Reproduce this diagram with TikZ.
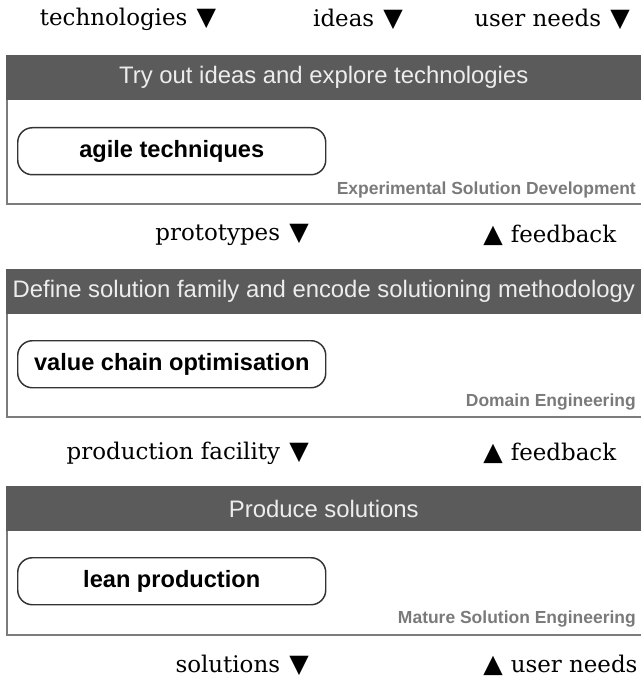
\documentclass[tikz,border=0pt]{standalone}
\usepackage{fontspec}
\setmainfont{DejaVu Serif}
\setsansfont{Liberation Sans}
\newfontfamily\trifont{DejaVu Sans}
\usetikzlibrary{positioning}
\definecolor{hdrGrey}{HTML}{5B5B5B}
\definecolor{rimGrey}{HTML}{7C7C7C}
\definecolor{tagGrey}{HTML}{7A7A7A}
\definecolor{pillRim}{HTML}{333333}
\newcommand{\dnmark}{\hspace{0.4em}{\trifont\fontsize{19}{19}\selectfont ▼}}
\newcommand{\upmark}{{\trifont\fontsize{19}{19}\selectfont ▲}\hspace{0.35em}}

\begin{document}
\begin{tikzpicture}[x=0.75pt,y=-0.75pt,
  flow/.style={font=\fontsize{17.2}{19}\selectfont,inner sep=0pt},
  stage/.style={draw=rimGrey,line width=1.2pt,anchor=north west,inner sep=0pt,
    minimum width=476.25pt},
  hdr/.style={fill=hdrGrey,anchor=north west,inner sep=0pt,minimum width=476.25pt,
    minimum height=33.75pt,text=white!93!black,font=\sffamily\fontsize{17.9}{19}\selectfont},
  pill/.style={draw=pillRim,line width=1.1pt,rounded corners=11pt,anchor=north west,
    minimum width=231pt,minimum height=35.25pt,inner sep=0pt,
    font=\sffamily\bfseries\fontsize{17.7}{19}\selectfont},
  tag/.style={anchor=east,inner sep=0pt,text=tagGrey,
    font=\sffamily\bfseries\fontsize{13.1}{15}\selectfont}]
\useasboundingbox (0,0) rectangle (640,680);
% inputs on top
\node[flow] (inTech) at (128,19) {technologies\dnmark};
\node[flow] (inIdea) at (358,19) {ideas\dnmark};
\node[flow,anchor=east] (inNeed) at (630,19) {user needs\dnmark};
% experimental solution development
\node[stage,minimum height=111pt] (exp) at (6,55) {};
\node[hdr] (expHdr) at (6,55) {Try out ideas and explore technologies};
\node[pill] (expPill) at (17,127) {agile techniques};
\node[tag] (expTag) at (636,190) {Experimental Solution Development};
% between 1 and 2
\node[flow,anchor=east] (proto) at (309,235) {prototypes\dnmark};
\node[flow,anchor=west] (fbA) at (483,235) {\upmark feedback};
% domain engineering
\node[stage,minimum height=110.25pt] (dom) at (6,269) {};
\node[hdr] (domHdr) at (6,269) {Define solution family and encode solutioning methodology};
\node[pill] (domPill) at (17,340) {value chain optimisation};
\node[tag] (domTag) at (636,402) {Domain Engineering};
% between 2 and 3
\node[flow,anchor=east] (facility) at (309,453) {production facility\dnmark};
\node[flow,anchor=west] (fbB) at (483,453) {\upmark feedback};
% mature solution engineering
\node[stage,minimum height=111pt] (mat) at (6,486) {};
\node[hdr] (matHdr) at (6,486) {Produce solutions};
\node[pill] (matPill) at (17,557) {lean production};
\node[tag] (matTag) at (636,619) {Mature Solution Engineering};
% outputs at the bottom
\node[flow,anchor=east] (sols) at (309,665) {solutions\dnmark};
\node[flow,anchor=west] (outNeed) at (483,665) {\upmark user needs};
\end{tikzpicture}
\end{document}
